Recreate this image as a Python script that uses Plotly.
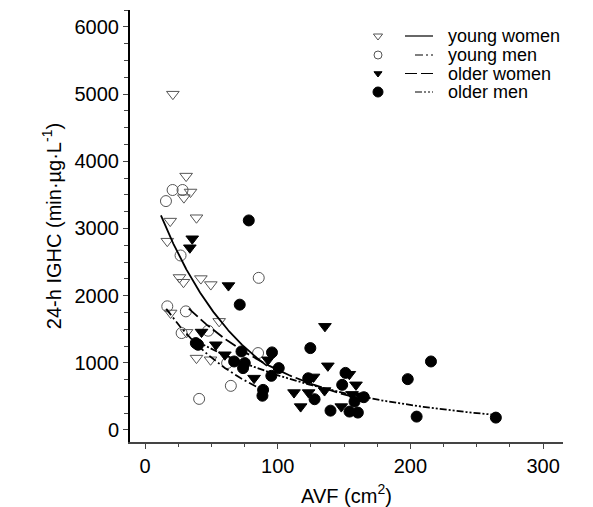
import numpy as np
import plotly.graph_objects as go

# ---- data ----
yw_x = [21, 31, 34.3, 29.3, 19, 38.8, 16.8, 26, 29, 42.1, 49.6, 19.3, 55.9, 31.3, 38.8, 49.4]
yw_y = [5000, 3780, 3543, 3459, 3110, 3160, 2811, 2270, 2200, 2254, 2165, 1742, 1617, 1453, 1070, 1045]

ym_x = [20.8, 28.3, 15.8, 26.8, 85.7, 16.8, 30.8, 27.6, 47.6, 61.9, 85.2, 64.7, 40.8]
ym_y = [3573, 3573, 3408, 2598, 2265, 1841, 1766, 1443, 1478, 996, 1145, 657, 463]

ow_x = [35.6, 33.8, 62.9, 42.6, 53.4, 60.2, 82.2, 92.7, 135.6, 137.8, 127, 112.3, 123.3, 135.3, 117.3, 154, 159, 147.9, 156, 163]
ow_y = [2847, 2713, 2150, 1458, 1269, 1120, 772, 1045, 1543, 955, 790, 557, 557, 587, 348, 830, 672, 348, 530, 508]

om_x = [78.2, 71.4, 38.3, 40, 67.2, 72.7, 75.2, 73.9, 89, 88.5, 95.7, 100.8, 95.2, 124.6, 123, 127.8,
        151.1, 148.6, 139.8, 154.1, 160.4, 157.9, 164.9, 198, 215.5, 204.7, 264.4]
om_y = [3120, 1866, 1294, 1269, 1020, 1169, 996, 921, 597, 510, 1155, 921, 806, 1219, 770, 458,
        850, 672, 288, 274, 259, 423, 488, 757, 1020, 199, 184]

# exponential fit parameters: (value at x0, x0, decay rate, x start, x end)
fits = {
    "young women": (3195, 12, 0.0151, 12, 92),
    "young men": (1742, 18.3, 0.01515, 16, 90),
    "older women": (1791, 33.8, 0.0105, 33, 160),
    "older men": (1319, 38.8, 0.00786, 38, 265),
}

x_ticks = [0, 100, 200, 300]
y_ticks = [0, 1000, 2000, 3000, 4000, 5000, 6000]

names = ["young women", "young men", "older women", "older men"]

FONT = "Liberation Sans, Arial, Helvetica, sans-serif"
styles = {
    "young women": dict(symbol="triangle-down-open", size=11, color="#555", dash="solid"),
    "young men": dict(symbol="circle-open", size=11, color="#555", dash="8px,3px,2px,3px"),
    "older women": dict(symbol="triangle-down", size=11, color="black", dash="12px,4px"),
    "older men": dict(symbol="circle", size=11, color="black", dash="7px,2px,2px,2px,2px,2px"),
}
data = {
    "young women": (yw_x, yw_y),
    "young men": (ym_x, ym_y),
    "older women": (ow_x, ow_y),
    "older men": (om_x, om_y),
}

# page body adds an 8px offset; compensate in the margins
OFF = 8
PL, PR, PT, PB = 130, 563, 10, 442   # target plot-area edges on screen

fig = go.Figure()

for n in names:
    st = styles[n]
    xs, ys = data[n]
    fig.add_trace(go.Scatter(
        x=xs, y=ys, mode="markers", showlegend=False,
        marker=dict(symbol=st["symbol"], size=st["size"], color=st["color"],
                    line=dict(color=st["color"], width=1)),
    ))

for n in names:
    a, x0, k, xs0, xs1 = fits[n]
    xx = np.linspace(xs0, xs1, 120)
    yy = a * np.exp(-k * (xx - x0))
    fig.add_trace(go.Scatter(
        x=xx, y=yy, mode="lines", showlegend=False,
        line=dict(color="black", width=1.8, dash=styles[n]["dash"]),
    ))

# ---- hand-made legend on a hidden pixel-like axis pair ----
leg_rows = [36, 55, 73.5, 92]
leg_sizes = [8, 8, 7, 10]
line_starts = [405, 415, 405, 415]
for n, ry, ms, ls in zip(names, leg_rows, leg_sizes, line_starts):
    st = styles[n]
    fig.add_trace(go.Scatter(
        x=[378], y=[ry], xaxis="x2", yaxis="y2", mode="markers", showlegend=False,
        marker=dict(symbol=st["symbol"], size=ms, color=st["color"],
                    line=dict(color=st["color"], width=1)),
    ))
    fig.add_trace(go.Scatter(
        x=[ls, 433], y=[ry, ry], xaxis="x2", yaxis="y2", mode="lines", showlegend=False,
        line=dict(color="black", width=1.2, dash=st["dash"]),
    ))
    fig.add_annotation(x=447, y=ry, xref="x2", yref="y2", text=n, showarrow=False,
                       xanchor="left", yanchor="middle", borderpad=0,
                       font=dict(family=FONT, size=18, color="black"))

fig.update_layout(
    width=593, height=507,
    margin=dict(l=PL - OFF, r=593 - PR + OFF, t=PT - OFF, b=507 - PB + OFF, autoexpand=False),
    paper_bgcolor="white", plot_bgcolor="white",
    font=dict(family=FONT, size=20, color="black"),
    xaxis=dict(
        range=[-11.3, 315], tickvals=x_ticks, ticktext=[str(v) for v in x_ticks],
        showgrid=False, zeroline=False, showline=True, linecolor="#444", linewidth=1.5,
        ticks="outside", ticklen=5, tickwidth=1, tickcolor="#444",
        minor=dict(dtick=25, tick0=0, ticks="outside", ticklen=3, tickcolor="#444", showgrid=False),
        title=dict(text="AVF (cm<sup>2</sup>)", font=dict(size=20), standoff=13),
        tickfont=dict(size=20),
    ),
    yaxis=dict(
        range=[-179, 6253], tickvals=y_ticks, ticktext=[str(v) for v in y_ticks],
        showgrid=False, zeroline=False, showline=True, linecolor="black", linewidth=2,
        ticks="outside", ticklen=5, tickwidth=1, tickcolor="#444",
        minor=dict(dtick=250, tick0=0, ticks="outside", ticklen=4, tickcolor="#444", showgrid=False),
        title=dict(text="24-h IGHC (min·µg·L<sup>-1</sup>)", font=dict(size=20), standoff=8),
        tickfont=dict(size=20),
    ),
    xaxis2=dict(domain=[0, 1], range=[PL, PR], anchor="y2", overlaying="x", visible=False),
    yaxis2=dict(domain=[0, 1], range=[PB, PT], anchor="x2", overlaying="y", visible=False),
)

fig.write_html("out.html")
